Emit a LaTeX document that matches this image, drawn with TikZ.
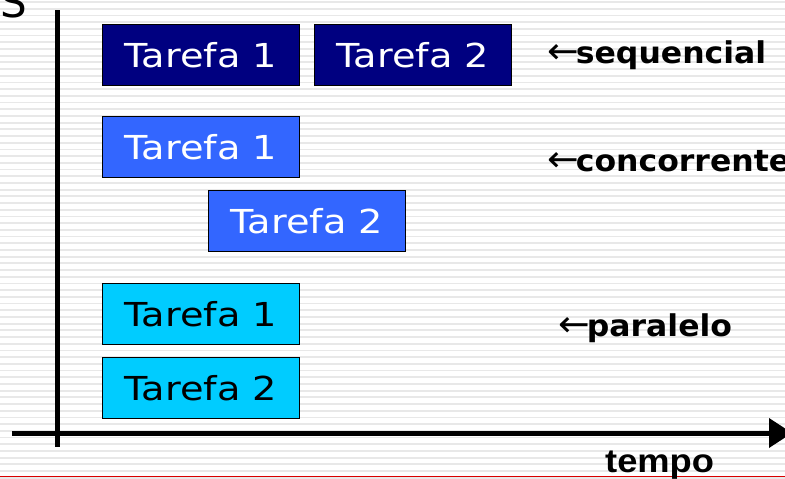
\documentclass[tikz,border=0pt]{standalone}
\usepackage{fontspec}
\setmainfont{DejaVu Sans}
\newfontfamily\boxfont[FakeStretch=1.16]{DejaVu Sans}
\newfontfamily\labfont[FakeStretch=1.05]{DejaVu Sans}
\newfontfamily\axisfont[FakeStretch=1.1]{Liberation Sans}
\usetikzlibrary{arrows.meta}
\definecolor{navy}{RGB}{0,0,128}
\definecolor{medblue}{RGB}{51,102,255}
\definecolor{skyc}{RGB}{0,204,255}
\definecolor{stripegray}{RGB}{232,232,232}
\tikzset{
  task/.style={draw=black, line width=1pt, minimum width=197pt, minimum height=61pt,
    inner sep=0pt, anchor=north west, font=\boxfont\fontsize{33}{33}\selectfont},
  seqbox/.style={task, fill=navy, text=white},
  concbox/.style={task, fill=medblue, text=white},
  parbox/.style={task, fill=skyc, text=black},
  kind/.style={anchor=west, inner sep=0pt, font=\labfont\bfseries\fontsize{30}{30}\selectfont},
  axisline/.style={line width=5pt, black},
}
\newcommand{\larr}{{\mdseries\fontsize{36}{30}\selectfont\kern-1pt ←\kern-3pt}}
\begin{document}
\begin{tikzpicture}[x=1pt,y=-1pt]
  \useasboundingbox (0,0) rectangle (785,479);
  \begin{scope}
    \clip (0,0) rectangle (785,479);
    \fill[white] (0,0) rectangle (785,479);
    % striped background
    \foreach \i in {0,...,71}
      \draw[stripegray, line width=1.8pt] (0,\i*6.7+2) -- (785,\i*6.7+2);
    % red rule at the foot
    \draw[red!85!black, line width=1.5pt] (0,476.5) -- (785,476.5);
    % axis letter, partly outside
    \node[anchor=base, inner sep=0pt, font=\fontsize{42}{42}\selectfont] (slab) at (14,17) {S};
    % axes
    \coordinate (yt) at (57,10);
    \coordinate (yb) at (57,447);
    \coordinate (xl) at (12,433);
    \coordinate (xr) at (769,433);
    \draw[axisline] (yt) -- (yb);
    \draw[axisline] (xl) -- (xr);
    \fill (769,418) -- (792,433) -- (769,448) -- cycle;
    % sequential execution
    \node[seqbox] (s1) at (102,24) {Tarefa 1};
    \node[seqbox] (s2) at (314,24) {Tarefa 2};
    % concurrent execution
    \node[concbox] (c1) at (102,116) {Tarefa 1};
    \node[concbox] (c2) at (208,190) {Tarefa 2};
    % parallel execution
    \node[parbox] (p1) at (102,283) {Tarefa 1};
    \node[parbox] (p2) at (102,357) {Tarefa 2};
    % labels
    \node[kind] (lseq) at (548,55) {\larr sequencial};
    \node[kind] (lconc) at (548,161) {\larr concorrente};
    \node[kind] (lpar) at (559,328) {\larr paralelo};
    \node[anchor=base west, inner sep=0pt, font=\axisfont\bfseries\fontsize{33}{33}\selectfont] (tempo) at (605,472) {tempo};
  \end{scope}
\end{tikzpicture}
\end{document}
